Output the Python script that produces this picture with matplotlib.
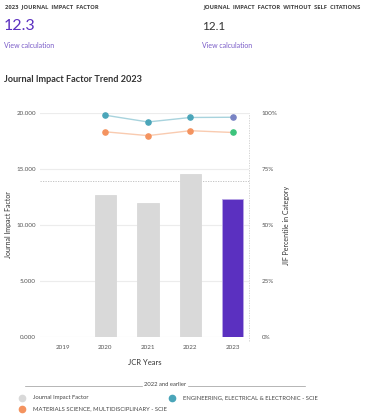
import matplotlib
matplotlib.use("Agg")
import matplotlib.pyplot as plt
from matplotlib.lines import Line2D

plt.rcParams['font.family'] = ['Lato', 'DejaVu Sans']

years = ["2019", "2020", "2021", "2022", "2023"]
jif = [None, 12.7, 12.0, 14.55, 12.3]
pct_eng = [None, 99.0, 96.0, 98.0, 98.1]
pct_mat = [None, 91.6, 89.9, 92.1, 91.3]
left_ticks = [0, 5, 10, 15, 20]
left_labels = ["0.000", "5.000", "10.000", "15.000", "20.000"]
right_labels = ["0%", "25%", "50%", "75%", "100%"]
dashed_level = 13.9

W, H = 368, 416
fig = plt.figure(figsize=(W / 100, H / 100), dpi=100)

def fx(x): return x / W
def fy(y): return 1 - y / H

# header
hdr = dict(fontsize=4.2, color="#444444", fontweight="bold", va="center", ha="left",
           family=["Open Sans", "DejaVu Sans"])
fig.text(fx(5), fy(7), "2023  JOURNAL  IMPACT  FACTOR", **hdr)
fig.text(fx(4), fy(26), "12.3", fontsize=11.5, color="#5b30c0", va="center", ha="left")
fig.text(fx(4), fy(45), "View calculation", fontsize=5, color="#7a5cc8", va="center", ha="left")
fig.text(fx(203), fy(7), "JOURNAL  IMPACT  FACTOR  WITHOUT  SELF  CITATIONS", **hdr)
fig.text(fx(202), fy(26), "12.1", fontsize=8.5, color="#333333", va="center", ha="left")
fig.text(fx(202), fy(45), "View calculation", fontsize=5, color="#7a5cc8", va="center", ha="left")

fig.text(fx(4), fy(79), "Journal Impact Factor Trend 2023", fontsize=6.6, color="#333333",
         fontweight="bold", va="center", ha="left")

ax = fig.add_axes([fx(40), fy(337), (249 - 40) / W, (337 - 113) / H])
x = list(range(len(years)))
for i, v in enumerate(jif):
    if v is None:
        continue
    c = "#5b30c0" if i == len(years) - 1 else "#d9d9d9"
    ax.bar(i, v, width=0.5, color=c, edgecolor="#b9a6e6" if i == len(years) - 1 else c,
           linewidth=0.6, zorder=2)

ax.set_xlim(-0.54, 4.38)
ax.set_ylim(0, 20)
ax.set_yticks(left_ticks)
ax.set_yticklabels(left_labels)
ax.set_xticks(x)
ax.set_xticklabels(years)
ax.tick_params(axis='both', length=0, labelsize=4.5, colors="#555555", pad=3)
ax.tick_params(axis='x', pad=6)
ax.grid(axis='y', color="#ececec", linewidth=0.8, zorder=0)
for s in ax.spines.values():
    s.set_visible(False)
ax.axhline(dashed_level, color="#bbbbbb", linestyle=(0, (1.5, 1.5)), linewidth=0.6, zorder=1)
ax.axvline(4.38, color="#cccccc", linestyle=(0, (1.5, 1.5)), linewidth=0.6, zorder=1,
           ymin=-0.02, ymax=1.0, clip_on=False)
ax.set_xlabel("JCR Years", fontsize=5.5, color="#333333", labelpad=6)
ax.set_ylabel("Journal Impact Factor", fontsize=5, color="#333333", labelpad=3)

ax2 = ax.twinx()
ax2.set_ylim(0, 100)
ax2.set_yticks([0, 25, 50, 75, 100])
ax2.set_yticklabels(right_labels)
ax2.tick_params(axis='y', length=0, labelsize=4.5, colors="#555555", pad=9)
for s in ax2.spines.values():
    s.set_visible(False)
ax2.set_ylabel("JIF Percentile in Category", fontsize=5, color="#333333", labelpad=4)

xe = [i for i, v in enumerate(pct_eng) if v is not None]
ye = [v for v in pct_eng if v is not None]
xm = [i for i, v in enumerate(pct_mat) if v is not None]
ym = [v for v in pct_mat if v is not None]
ax2.plot(xe, ye, color="#a8d3dd", linewidth=1.0, zorder=3, clip_on=False)
ax2.plot(xm, ym, color="#f9cbb0", linewidth=1.0, zorder=3, clip_on=False)
ax2.scatter(xe[:-1], ye[:-1], s=14, color="#4aa5b9", zorder=4, clip_on=False)
ax2.scatter(xe[-1:], ye[-1:], s=14, color="#7883c4", zorder=4, clip_on=False)
ax2.scatter(xm[:-1], ym[:-1], s=14, color="#f4935f", zorder=4, clip_on=False)
ax2.scatter(xm[-1:], ym[-1:], s=14, color="#3cc47c", zorder=4, clip_on=False)

# legend
fig.add_artist(Line2D([fx(25), fx(142)], [fy(386), fy(386)], color="#999999", linewidth=0.5))
fig.add_artist(Line2D([fx(188), fx(305)], [fy(386), fy(386)], color="#999999", linewidth=0.5))
fig.text(fx(165), fy(385), "2022 and earlier", fontsize=4.2, color="#444444", ha="center", va="center")

items = [
    (22, 397.5, "#d9d9d9", "Journal Impact Factor"),
    (22, 408.5, "#f4935f", "MATERIALS SCIENCE, MULTIDISCIPLINARY - SCIE"),
    (172, 397.5, "#4aa5b9", "ENGINEERING, ELECTRICAL & ELECTRONIC - SCIE"),
]
for (px, py, c, lab) in items:
    fig.add_artist(Line2D([fx(px)], [fy(py)], marker='o', markersize=4.5, color=c, linestyle='none'))
    fig.text(fx(px + 11), fy(py), lab, fontsize=4.2, color="#444444", ha="left", va="center")

fig.savefig("out.png", dpi=100)
